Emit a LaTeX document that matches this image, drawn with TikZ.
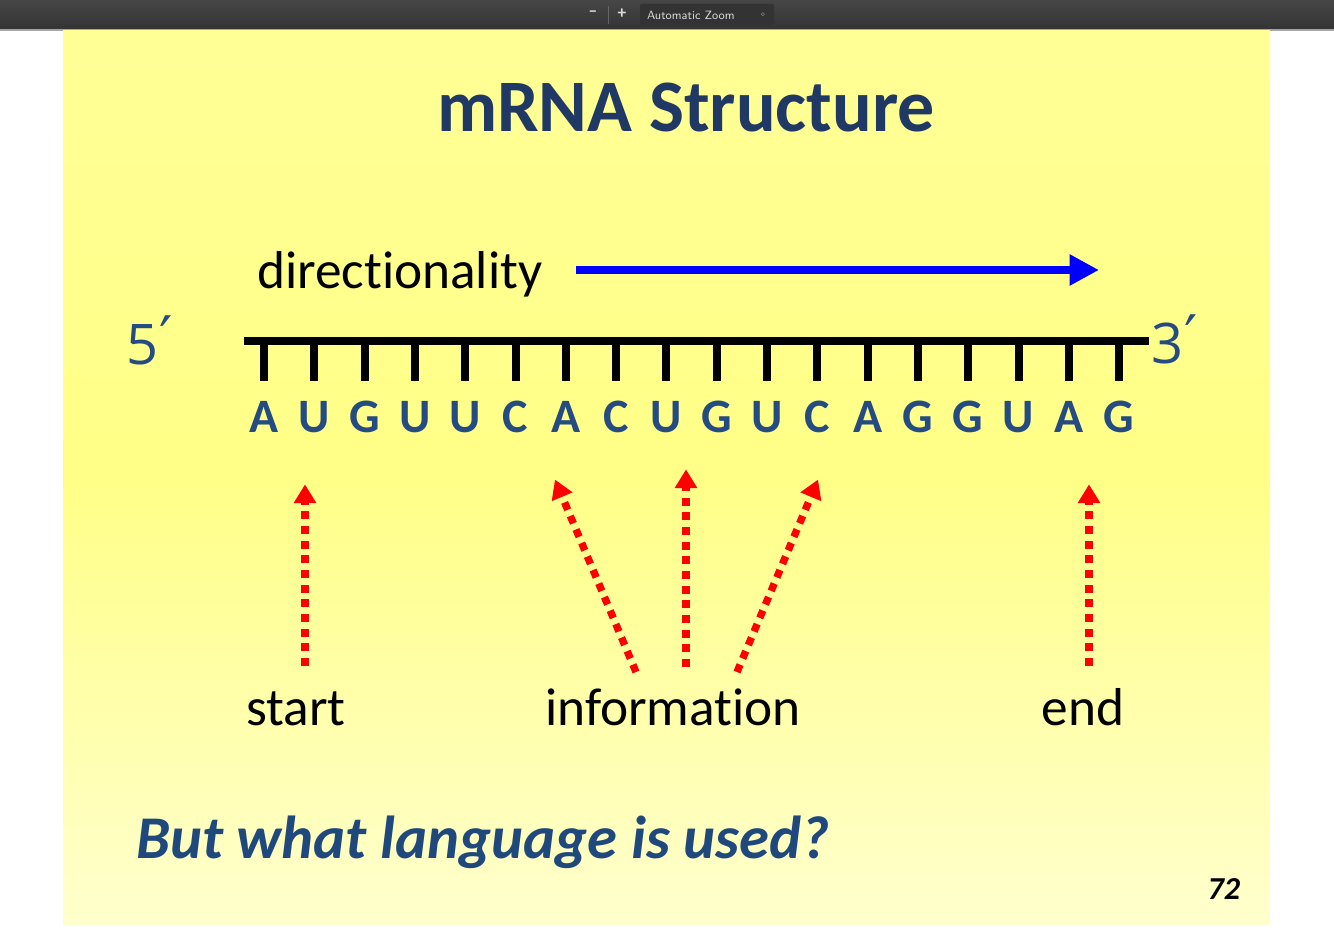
\documentclass[tikz,border=0pt]{standalone}
\usepackage{fontspec}
\setmainfont{Carlito}
\newfontfamily\noligfont{Carlito}[Ligatures={NoCommon}]
\newfontfamily\digitfont{Open Sans}
\newfontfamily\primefont{DejaVu Sans}
\usetikzlibrary{arrows.meta}
\definecolor{titleblue}{RGB}{31,56,100}
\definecolor{basblue}{RGB}{36,76,130}
\definecolor{qblue}{RGB}{31,73,125}
\definecolor{bartop}{RGB}{70,70,70}
\definecolor{barbot}{RGB}{52,52,52}
\definecolor{slidetop}{RGB}{255,255,150}
\definecolor{slidemid}{RGB}{255,255,135}
\definecolor{slidebot}{RGB}{255,255,205}
\tikzset{
  txt/.style={inner sep=0pt, outer sep=0pt},
  base/.style={txt, anchor=base, font=\fontsize{36}{36}\selectfont\bfseries, text=basblue},
  word/.style={txt, anchor=base, font=\noligfont\fontsize{40}{40}\selectfont, text=black},
  digit/.style={txt, anchor=base west, font=\digitfont\fontsize{42}{42}\selectfont, text=basblue},
  primemark/.style={txt, anchor=base west, font=\primefont\fontsize{44}{44}\selectfont, text=basblue},
  tick/.style={line width=6pt, black},
  redarrow/.style={red, line width=5.5pt, dash pattern=on 6pt off 5pt, -{Triangle[length=14pt,width=16pt]}, shorten >=-2pt},
}
\begin{document}
\begin{tikzpicture}[x={(0.75pt,0)}, y={(0,-0.75pt)}]
\useasboundingbox (0,0) rectangle (1334,942);
\fill[white] (0,0) rectangle (1334,942);
% toolbar
\shade[top color=bartop, bottom color=barbot] (0,0) rectangle (1334,29);
\fill[gray!70] (0,29) rectangle (1334,31);
\fill[black!80, rounded corners=1pt] (640,4) rectangle (774,26);
\node[txt, anchor=west, text=white!85!black, font=\fontsize{9}{9}\selectfont\sffamily] (zoom) at (647,15) {Automatic Zoom};
\node[txt, text=white!85!black, font=\fontsize{9}{9}\selectfont\sffamily] (updown) at (763,14.5) {\scalebox{0.6}{$\diamond$}};
\node[txt, text=white!85!black, font=\fontsize{13}{13}\selectfont\bfseries] (minus) at (593,13.5) {\textendash};
\node[txt, text=white!85!black, font=\fontsize{13}{13}\selectfont\bfseries] (plus) at (622,13.5) {+};
\draw[black!60, line width=0.75pt] (608,6) -- (608,24);
% slide
\path[top color=slidetop, bottom color=slidebot, middle color=slidemid] (63,31) rectangle (1270,924);
% title
\node[txt, anchor=base, font=\fontsize{55.5}{55.5}\selectfont\bfseries, text=titleblue] (title) at (686,131) {mRNA Structure};
% directionality
\node[word, anchor=base west] (dir) at (257,288) {directionality};
\coordinate (bs) at (576,270);
\coordinate (be) at (1099,270);
\draw[blue, line width=6.5pt, -{Triangle[length=22pt,width=22pt]}] (bs) -- (be);
% backbone
\coordinate (l) at (244,341);
\coordinate (r) at (1149,341);
\draw[black, line width=6pt] (l) -- (r);
\foreach \i/\b in {0/A,1/U,2/G,3/U,4/U,5/C,6/A,7/C,8/U,9/G,10/U,11/C,12/A,13/G,14/G,15/U,16/A,17/G}{
  \coordinate (t\i) at ({264+50.3*\i},341);
  \coordinate (tb\i) at ({264+50.3*\i},381);
  \draw[tick] (t\i) -- (tb\i);
  \node[base] (n\i) at ({264+50.3*\i},432) {\b};
}
\node[digit] (five) at (126,364) {5};
\node[primemark] (fivep) at (159,358) {′};
\node[digit] (three) at (1151,363) {3};
\node[primemark] (threep) at (1184,357) {′};
% labels
\node[word] (start) at (296,725) {start};
\node[word] (info) at (673,725) {information};
\node[word] (end) at (1083,725) {end};
% red arrows
\coordinate (s0) at (305,666); \coordinate (s1) at (305,487);
\coordinate (a0) at (636,672); \coordinate (a1) at (556,482);
\coordinate (m0) at (686,667); \coordinate (m1) at (686,472);
\coordinate (c0) at (737,672); \coordinate (c1) at (817,482);
\coordinate (e0) at (1089,666); \coordinate (e1) at (1089,487);
\draw[redarrow] (s0) -- (s1);
\draw[redarrow] (a0) -- (a1);
\draw[redarrow] (m0) -- (m1);
\draw[redarrow] (c0) -- (c1);
\draw[redarrow] (e0) -- (e1);
% question
\node[txt, anchor=base west, font=\fontsize{45.5}{45.5}\selectfont\bfseries\itshape, text=qblue] (q) at (136,858) {But what language is used?};
\node[txt, anchor=base east, font=\fontsize{24}{24}\selectfont\bfseries\itshape, text=black] (page) at (1240,899) {72};
\end{tikzpicture}
\end{document}
